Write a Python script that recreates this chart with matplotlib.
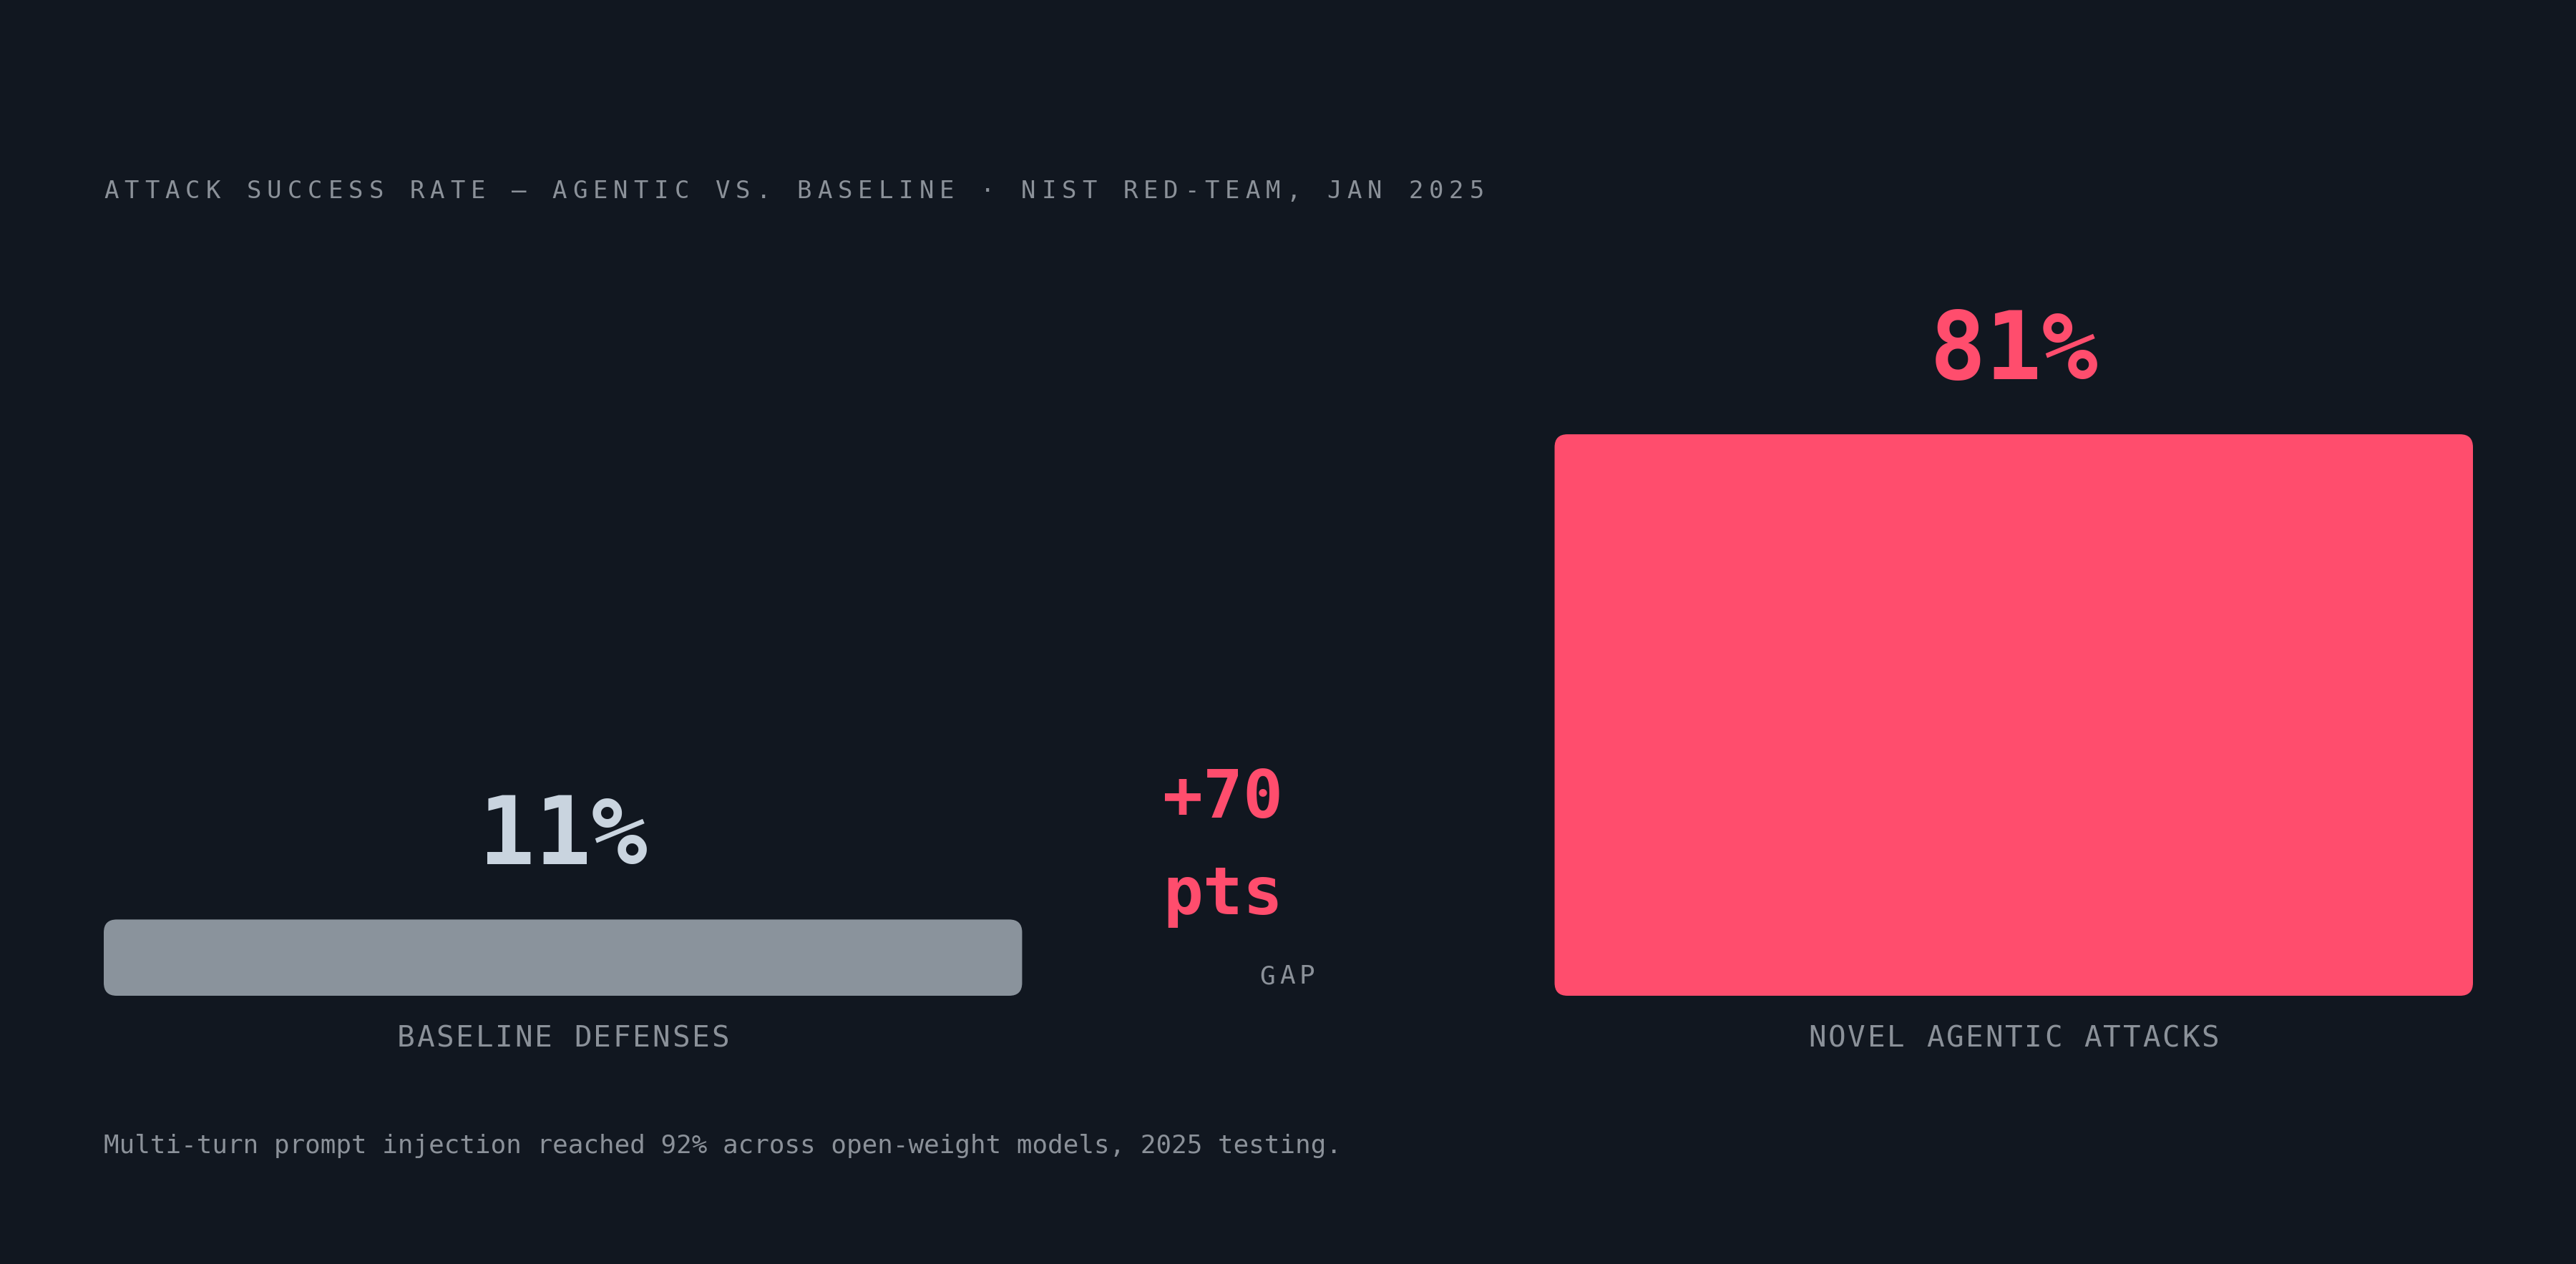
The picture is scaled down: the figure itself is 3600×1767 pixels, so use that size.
import numpy as np
import matplotlib
matplotlib.use('Agg')
import matplotlib.pyplot as plt
from matplotlib.patches import FancyBboxPatch

categories = ['BASELINE DEFENSES', 'NOVEL AGENTIC ATTACKS']
values = [11, 81]
value_labels = ['11%', '81%']
title = 'ATTACK SUCCESS RATE \u2014 AGENTIC VS. BASELINE \u00b7 NIST RED-TEAM, JAN 2025'
note = 'Multi-turn prompt injection reached 92% across open-weight models, 2025 testing.'
gap_label = 'GAP'

W, H, DPI = 3600, 1767, 100
BG = '#111720'
bar_colors = ['#8a939c', '#ff4d6d']
value_colors = ['#c9d4df', '#ff4d6d']
MUTED = '#8b9199'
PINK = '#ff4d6d'
MONO = 'DejaVu Sans Mono'

fig = plt.figure(figsize=(W / DPI, H / DPI), dpi=DPI, facecolor=BG)

# overlay in pixel coords (y down) used only for text layout
ov = fig.add_axes([0, 0, 1, 1])
ov.set_xlim(0, W)
ov.set_ylim(H, 0)
ov.axis('off')

# bar axes: zero line at y=1392px, 100% spans 969px
ax = fig.add_axes([145 / W, (H - 1392) / H, (3456 - 145) / W, 969 / H])
ax.set_facecolor('none')
ax.axis('off')
x = np.arange(len(values))
width = 0.633
bars = ax.bar(x, values, width=width, color=bar_colors)
ax.set_xlim(-width / 2, len(values) - 1 + width / 2)
ax.set_ylim(0, 100)

# rounded corners
px_x = ax.get_position().width * W / (ax.get_xlim()[1] - ax.get_xlim()[0])
px_y = ax.get_position().height * H / 100
r_px = 18
for b, c in zip(bars, bar_colors):
    bx, by, bw, bh = b.get_x(), b.get_y(), b.get_width(), b.get_height()
    b.remove()
    ax.add_patch(FancyBboxPatch((bx, by), bw, bh,
                                boxstyle=f'round,pad=0,rounding_size={r_px / px_x}',
                                mutation_aspect=px_x / px_y,
                                facecolor=c, edgecolor='none'))

for xi, v, lbl, c in zip(x, values, value_labels, value_colors):
    ax.annotate(lbl, (xi, v), xytext=(0, 55.4), textcoords='offset points',
                ha='center', va='baseline', fontsize=94, fontweight='bold',
                family=MONO, color=c)


def spaced(cx, base, s, size, spacing, color, ha='center'):
    adv = 0.602 * size * DPI / 72 + spacing
    total = adv * len(s) - spacing
    x0 = cx - total / 2 if ha == 'center' else cx
    for i, ch in enumerate(s):
        ov.text(x0 + i * adv + (adv - spacing) / 2, base, ch, ha='center',
                va='baseline', fontsize=size, family=MONO, color=color)


spaced(145, 277, title, 24.5, 8, MUTED, ha='left')

for xi, cat in zip(x, categories):
    cx = ax.transData.transform((xi, 0))[0]
    spaced(cx, 1463, cat, 29.5, 2.8, MUTED)

gap = values[1] - values[0]
ov.text(1625, 1143, f'+{gap}', ha='left', va='baseline', fontsize=67,
        fontweight='bold', family=MONO, color=PINK)
ov.text(1625, 1278, 'pts', ha='left', va='baseline', fontsize=67,
        fontweight='bold', family=MONO, color=PINK)
spaced(1799, 1375, gap_label, 26, 6, MUTED)

ov.text(145, 1612, note, ha='left', va='baseline', fontsize=25.8,
        family=MONO, color=MUTED)

fig.savefig('out.png', dpi=DPI, facecolor=BG)
